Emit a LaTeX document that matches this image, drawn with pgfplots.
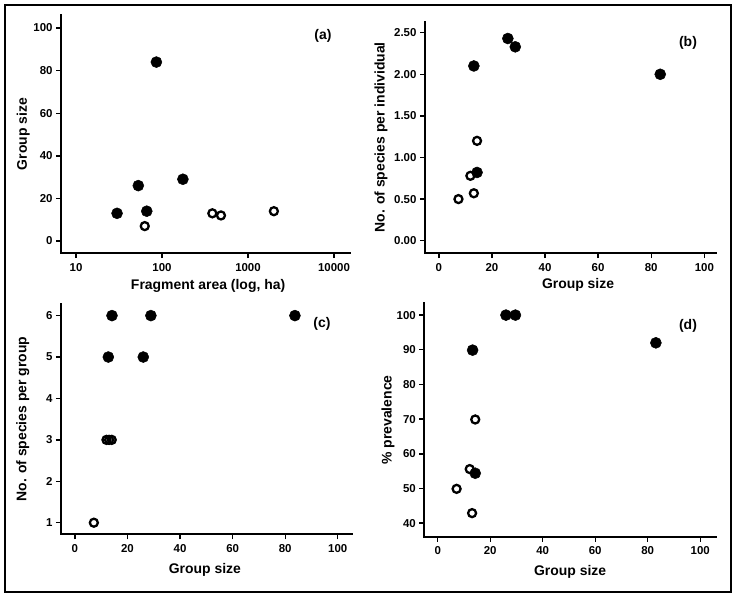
\documentclass[border=0pt]{standalone}
\usepackage{fontspec}
\setmainfont{Liberation Sans}
\newcommand\tkfont{\bfseries\fontsize{11.5}{13}\selectfont}
\newcommand\lbfont{\bfseries\fontsize{14}{16}\selectfont}
\usepackage{pgfplots}
\pgfplotsset{compat=1.18}
\pgfplotsset{
  panel/.style={
    scale only axis,
    axis x line=bottom, axis y line=left,
    axis line style={-, line width=1.8bp, line cap=rect},
    tick align=outside, major tick length=5bp,
    every tick/.style={black, line width=1.4bp},
    clip=false,
    xminorticks=false, yminorticks=false,
    xticklabel style={font=\tkfont, yshift=-1.5bp}, yticklabel style={font=\tkfont},
  },
  filled/.style={only marks, mark=*, mark size=5.5bp, mark options={fill=black, draw=black, line width=0.5bp}},
  open/.style={only marks, mark=o, mark size=4bp, mark options={fill=white, draw=black, line width=2.3bp}},
}
\begin{document}
\begin{tikzpicture}[font=\tkfont]
\useasboundingbox (0,0) rectangle (736bp,-596bp);
\draw[line width=2bp] (5bp,-5bp) rectangle (731bp,-592bp);

% (a)
\begin{axis}[panel, at={(61bp,-253bp)}, anchor=south west, width=289bp, height=238bp,
  xmode=log, xmin=6.69, xmax=15350, ymin=-5.63, ymax=106.1,
  xtick={10,100,1000,10000}, xticklabels={10,100,1000,10000},
  ytick={0,20,40,60,80,100}, yticklabels={0,20,40,60,80,100},
  xlabel={Fragment area (log, ha)}, ylabel={Group size},
  xlabel style={font=\lbfont, at={(axis description cs:0.509,-0.139)}, anchor=center},
  ylabel style={font=\lbfont, at={(axis description cs:-0.131,0.5)}, anchor=center}]
\addplot[open] coordinates {(63,7) (385,13) (485,12) (2000,14)};
\addplot[filled] coordinates {(30,13) (53,26) (66.5,14) (86,84) (175,29)};
\end{axis}

% (b)
\begin{axis}[panel, at={(425bp,-253bp)}, anchor=south west, width=291bp, height=231.3bp,
  xmin=-5.2, xmax=104.4, ymin=-0.148, ymax=2.632,
  xtick={0,20,40,60,80,100}, xticklabels={0,20,40,60,80,100},
  ytick={0,0.5,1,1.5,2,2.5}, yticklabels={0.00,0.50,1.00,1.50,2.00,2.50},
  xlabel={Group size}, ylabel={No. of species per individual},
  xlabel style={font=\lbfont, at={(axis description cs:0.526,-0.139)}, anchor=center},
  ylabel style={font=\lbfont, at={(axis description cs:-0.151,0.5)}, anchor=center}]
\addplot[open] coordinates {(7.4,0.50) (11.9,0.78) (13.2,0.57) (14.4,1.20)};
\addplot[filled] coordinates {(13.2,2.10) (26,2.43) (28.8,2.33) (83.4,2.00) (14.4,0.82)};
\end{axis}

% (c)
\begin{axis}[panel, at={(61bp,-534.3bp)}, anchor=south west, width=290.7bp, height=230.3bp,
  xmin=-5.3, xmax=105.3, ymin=0.72, ymax=6.28,
  xtick={0,20,40,60,80,100}, xticklabels={0,20,40,60,80,100},
  ytick={1,2,3,4,5,6}, yticklabels={1,2,3,4,5,6},
  xlabel={Group size}, ylabel={No. of species per group},
  xlabel style={font=\lbfont, at={(axis description cs:0.495,-0.155)}, anchor=center},
  ylabel style={font=\lbfont, at={(axis description cs:-0.131,0.5)}, anchor=center}]
\addplot[open] coordinates {(7.2,1) (12,3) (13,3) (14,3)};
\addplot[filled] coordinates {(14.1,6) (28.9,6) (83.7,6) (12.7,5) (26,5)};
\end{axis}

% (d)
\begin{axis}[panel, at={(424.3bp,-536.7bp)}, anchor=south west, width=291.7bp, height=233.4bp,
  xmin=-5.1, xmax=106, ymin=36.1, ymax=103.4,
  xtick={0,20,40,60,80,100}, xticklabels={0,20,40,60,80,100},
  ytick={40,50,60,70,80,90,100}, yticklabels={40,50,60,70,80,90,100},
  xlabel={Group size}, ylabel={\% prevalence},
  xlabel style={font=\lbfont, at={(axis description cs:0.50,-0.151)}, anchor=center},
  ylabel style={font=\lbfont, at={(axis description cs:-0.124,0.5)}, anchor=center}]
\addplot[open] coordinates {(14.3,69.9) (12.2,55.6) (7.2,49.9) (13.1,42.9)};
\addplot[filled] coordinates {(26,100) (29.6,100) (13.3,89.9) (83.1,92.0) (14.3,54.4)};
\end{axis}

\begin{scope}[every node/.style={font=\lbfont}]
\node at (323bp,-36bp) {(a)};
\node at (688bp,-43bp) {(b)};
\node at (322bp,-324bp) {(c)};
\node at (688bp,-326bp) {(d)};
\end{scope}
\end{tikzpicture}
\end{document}
